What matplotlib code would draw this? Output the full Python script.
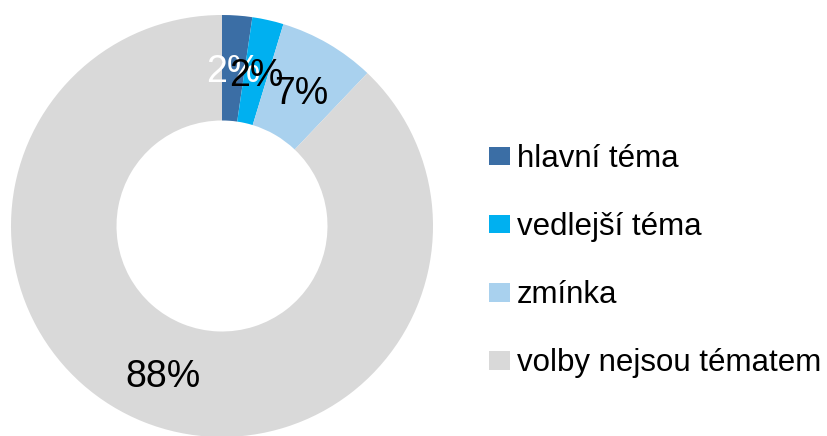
import matplotlib.pyplot as plt
import numpy as np
from matplotlib.patches import Patch

kategorie = ["hlavní téma", "vedlejší téma", "zmínka", "volby nejsou tématem"]
podily = [2.3, 2.4, 7.4, 87.9]
popisky = ["2%", "2%", "7%", "88%"]
barvy = ["#3B6EA5", "#00B0F0", "#A9D1EE", "#D9D9D9"]
barvy_popisku = ["white", "black", "black", "black"]

plt.rcParams['font.family'] = ['Liberation Sans', 'DejaVu Sans']

fig = plt.figure(figsize=(8.27, 4.36), dpi=100)
W, H = 827, 436
r_px = 211
cx, cy = 222, 226
ax = fig.add_axes([(cx - r_px) / W, (H - cy - r_px) / H, 2 * r_px / W, 2 * r_px / H])

wedges, _ = ax.pie(podily, colors=barvy, startangle=90, counterclock=False,
                   radius=1.0, wedgeprops=dict(width=0.5, edgecolor="none"))

# popisky uprostred prstence
celkem = sum(podily)
uhel = 0.0
for hodnota, text, barva in zip(podily, popisky, barvy_popisku):
    stred = np.deg2rad(90 - (uhel + hodnota / 2) / celkem * 360)
    ax.text(0.75 * np.cos(stred), 0.75 * np.sin(stred) - 0.02, text, ha="center", va="center",
            fontsize=27, color=barva)
    uhel += hodnota

ax.set_xlim(-1, 1)
ax.set_ylim(-1, 1)
ax.set_aspect("equal")
ax.axis("off")

handles = [Patch(facecolor=c, edgecolor="none") for c in barvy]
fig.legend(handles, kategorie, loc="upper left", bbox_to_anchor=(489 / W, 1 - 144 / H),
           frameon=False, fontsize=22.5, labelspacing=1.22, handlelength=0.68,
           handleheight=0.55, handletextpad=0.22, borderpad=0, borderaxespad=0)

fig.savefig("out.png", dpi=100)
